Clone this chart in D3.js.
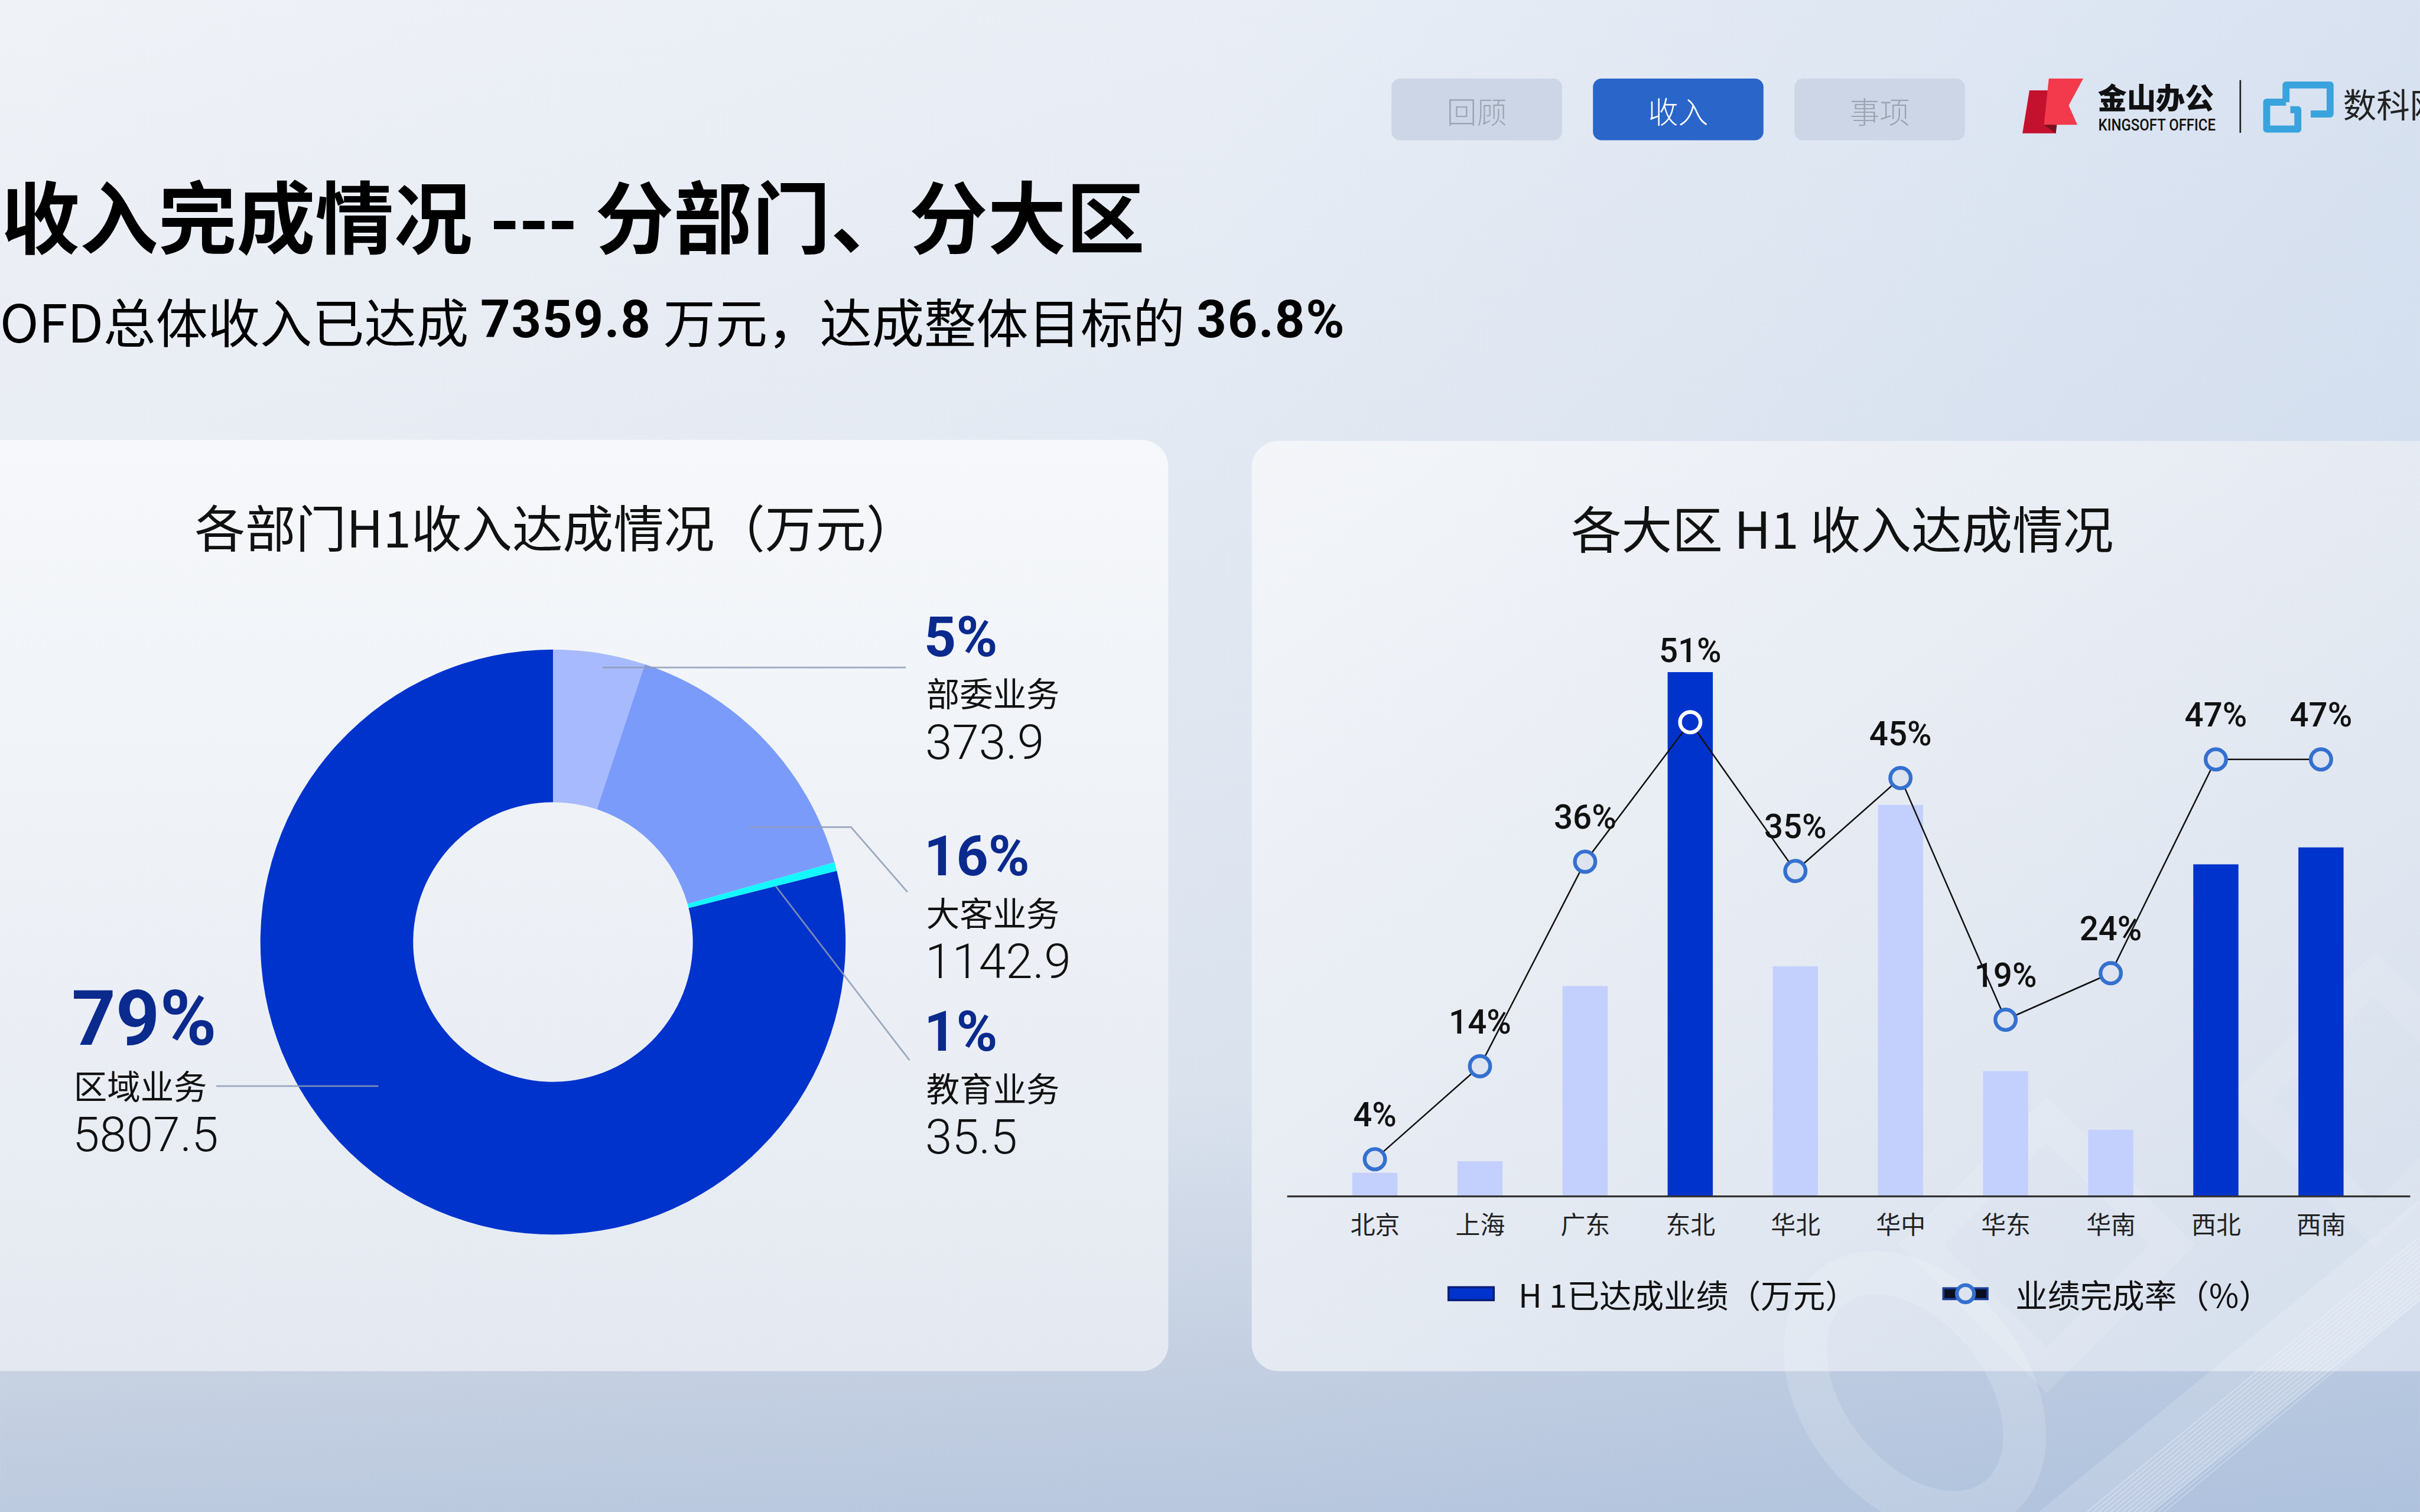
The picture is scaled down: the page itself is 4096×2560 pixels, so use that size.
<!DOCTYPE html>
<html><head><meta charset="utf-8">
<script src="https://cdn.jsdelivr.net/npm/d3@7"></script>
<style>html,body{margin:0;padding:0;overflow:hidden;background:#e9edf3}</style>
</head><body>
<svg id="c" width="4096" height="2560" viewBox="0 0 4499 2812"></svg>
<script>
// ---------------- data ----------------
const deptNames = ['部委业务','大客业务','教育业务','区域业务'];
const deptValues = [373.9, 1142.9, 35.5, 5807.5];
const deptPctLabels = ['5%','16%','1%','79%'];
const regions = ['北京','上海','广东','东北','华北','华中','华东','华南','西北','西南'];
const regionRevenue = [60, 89, 534, 1331, 584, 994, 318, 169, 843, 886];
const regionRate = [4, 14, 36, 51, 35, 45, 19, 24, 47, 47];
const tabLabels = ['回顾','收入','事项'];
const legendLabels = ['H 1已达成业绩（万元）','业绩完成率（%）'];
const titleText = '收入完成情况 --- 分部门、分大区';
const subtitleParts = [['OFD总体收入已达成 ',0],['7359.8',1],[' 万元，达成整体目标的 ',0],['36.8%',1]];
const pieTitle = '各部门H1收入达成情况（万元）';
const barTitle = '各大区 H1 收入达成情况';

// ---------------- layout / style ----------------
const CJK = "'Noto Sans CJK SC','Noto Sans',sans-serif";
const NUM = "Roboto,'Noto Sans CJK SC',sans-serif";
const deptColors = ['#a7bafd','#7b9bfb','#14f7ff','#0033cc'];
const svg = d3.select('#c');
const defs = svg.append('defs');
function lg(id,x1,y1,x2,y2,stops){
  const g = defs.append('linearGradient').attr('id',id).attr('x1',x1).attr('y1',y1).attr('x2',x2).attr('y2',y2);
  stops.forEach(s=>g.append('stop').attr('offset',s[0]).attr('stop-color',s[1]).attr('stop-opacity',s[2]==null?1:s[2]));
}
lg('bgV',0,0,0,1,[[0,'#eff2f7'],[0.72,'#e0e6ef'],[0.9,'#c8d2e2'],[1,'#bccadf']]);
lg('bgH',0,0,1,0,[[0,'#6f9ad6',0],[0.5,'#6f9ad6',0.05],[1,'#6f9ad6',0.18]]);
lg('cardL',0,0,0,1,[[0,'#f6f8fb'],[1,'#e4e9f1']]);
lg('cardR',0,0,1,1,[[0,'#f3f5f9'],[0.6,'#e2e8f1'],[1,'#d3ddec']]);

// background
svg.append('rect').attr('width',4499).attr('height',2812).attr('fill','url(#bgV)');
svg.append('rect').attr('width',4499).attr('height',2812).attr('fill','url(#bgH)');

// cards
svg.append('rect').attr('x',-60).attr('y',818).attr('width',2232).attr('height',1732).attr('rx',50).attr('fill','url(#cardL)');
svg.append('rect').attr('x',2327).attr('y',820).attr('width',2300).attr('height',1730).attr('rx',50).attr('fill','url(#cardR)');

// faint background decorations (watermark)
const deco = svg.append('g').attr('fill','none').attr('stroke','#ffffff');
deco.append('ellipse').attr('cx',3560).attr('cy',2590).attr('rx',170).attr('ry',250)
  .attr('transform','rotate(-38 3560 2590)').attr('stroke-width',80).attr('stroke-opacity',0.16);
deco.append('rect').attr('x',3640).attr('y',2150).attr('width',330).attr('height',330)
  .attr('transform','rotate(45 3805 2315)').attr('stroke-width',60).attr('stroke-opacity',0.13);
deco.append('rect').attr('x',4250).attr('y',1880).attr('width',330).attr('height',330)
  .attr('transform','rotate(45 4415 2045)').attr('stroke-width',60).attr('stroke-opacity',0.10);
svg.append('path').attr('d','M4499,2230 L4499,2420 L4000,2812 L3790,2812 Z').attr('fill','#ffffff').attr('fill-opacity',0.16);
d3.range(0,14).forEach(i=>{
  deco.append('line').attr('x1',4499).attr('y1',2300+i*9).attr('x2',3880+i*11).attr('y2',2812)
    .attr('stroke-width',2).attr('stroke-opacity',0.3);
});

// tabs
const tabs = svg.append('g');
tabLabels.forEach((t,i)=>{
  const x0 = 2587 + i*374.5;
  const active = i===1;
  tabs.append('rect').attr('x',x0).attr('y',146).attr('width',317).attr('height',115).attr('rx',16)
    .attr('fill',active?'#2a66c9':'#ccd6e6');
  tabs.append('text').attr('x',x0+158.5).attr('y',205).attr('text-anchor','middle').attr('dominant-baseline','central')
    .style('font-family',CJK).style('font-weight',300).style('font-size','56px').attr('fill',active?'#ffffff':'#9ca5b2').text(t);
});

// logos
const logo = svg.append('g');
logo.append('path').attr('d','M3773,168 L3812,168 L3822,248 L3760,248 Z').attr('fill','#c4112d');
logo.append('path').attr('d','M3809,146 L3873,146 L3846,196 L3862,232 L3800,232 Z').attr('fill','#f23a4c');
logo.append('path').attr('d','M3800,232 L3824,232 L3822,248 Z').attr('fill','#7a1020');
logo.append('text').attr('x',3900).attr('y',178).attr('dominant-baseline','central')
  .style('font-family',CJK).style('font-weight',900).style('font-size','54px').attr('fill','#111').text('金山办公');
logo.append('text').attr('x',3901).attr('y',232).attr('dominant-baseline','central').attr('textLength',218).attr('lengthAdjust','spacingAndGlyphs')
  .style('font-family',NUM).style('font-weight',500).style('font-size','31px').attr('fill','#111').text('KINGSOFT OFFICE');
logo.append('line').attr('x1',4165).attr('x2',4165).attr('y1',149).attr('y2',247).attr('stroke','#222').attr('stroke-width',3);
logo.append('path').attr('d','M4250,190 L4214,190 L4214,240 L4272,240 L4272,204 L4258,204')
  .attr('fill','none').attr('stroke','#39a3dd').attr('stroke-width',13).attr('stroke-linejoin','round');
logo.append('path').attr('d','M4250,190 L4250,158 L4332,158 L4332,212 L4296,212')
  .attr('fill','none').attr('stroke','#39a3dd').attr('stroke-width',13).attr('stroke-linejoin','round');
logo.append('text').attr('x',4356).attr('y',192).attr('dominant-baseline','central')
  .style('font-family',CJK).style('font-size','62px').attr('fill','#222').text('数科网');

// titles
svg.append('text').attr('x',2).attr('y',397).attr('dominant-baseline','central')
  .style('font-family',CJK).style('font-weight',700).style('font-size','146px').attr('fill','#000').text(titleText);
const sub = svg.append('text').attr('x',0).attr('y',594).attr('dominant-baseline','central')
  .style('font-family',CJK).style('font-size','97px').attr('fill','#000');
subtitleParts.forEach(p=>{
  sub.append('tspan').text(p[0]).style('font-weight',p[1]?700:400).style('font-family',p[1]?NUM:CJK)
    .style('letter-spacing',p[1]?'2px':'0px');
});

// ---------------- pie (donut) ----------------
const cx = 1028, cy = 1752, R = 544, r0 = 260;
svg.append('text').attr('x',1033).attr('y',978).attr('text-anchor','middle').attr('dominant-baseline','central')
  .style('font-family',CJK).style('font-size','94px').attr('fill','#111').text(pieTitle);
const pieData = d3.pie().sort(null).value(d=>d)(deptValues);
const arc = d3.arc().innerRadius(r0).outerRadius(R);
const pg = svg.append('g').attr('transform',`translate(${cx},${cy})`);
pg.selectAll('path').data(pieData).join('path').attr('d',arc).attr('fill',(d,i)=>deptColors[i]);

// leader lines & labels
function onRing(d,t,rr){ const a = d.startAngle + t*(d.endAngle-d.startAngle); return [cx+rr*Math.sin(a), cy-rr*Math.cos(a)]; }
const leaderSpec = [
  {t:0.56, rr:519, pts:(p)=>[p,[1684,p[1]]]},
  {t:0.74, rr:423, pts:(p)=>[p,[1582,p[1]],[1687,1659]]},
  {t:1.0,  rr:427, pts:(p)=>[p,[1691,1972]]},
  {t:0.544,rr:421, pts:(p)=>[p,[402,p[1]]]}
];
const lineGen = d3.line();
pieData.forEach((d,i)=>{
  const s = leaderSpec[i];
  svg.append('path').attr('d',lineGen(s.pts(onRing(d,s.t,s.rr)))).attr('fill','none')
    .attr('stroke','#8e9bb4').attr('stroke-opacity',0.85).attr('stroke-width',3);
});
const labelSpec = [
  {x:1722, py:1185, ny:1287, vy:1381, ps:104},
  {x:1722, py:1592, ny:1695, vy:1788, ps:104},
  {x:1722, py:1918, ny:2022, vy:2114, ps:104},
  {x:137,  py:1894, ny:2017, vy:2110, ps:143}
];
deptNames.forEach((n,i)=>{
  const s = labelSpec[i];
  const g = svg.append('g');
  g.append('text').attr('x',s.x-4).attr('y',s.py).attr('dominant-baseline','central')
    .style('font-family',NUM).style('font-weight',700).style('font-size',s.ps+'px').attr('fill','#0b2a8e').text(deptPctLabels[i]);
  g.append('text').attr('x',s.x).attr('y',s.ny).attr('dominant-baseline','central')
    .style('font-family',CJK).style('font-size','62px').attr('fill','#111').text(n);
  g.append('text').attr('x',s.x-2).attr('y',s.vy).attr('dominant-baseline','central')
    .style('font-family',NUM).style('font-weight',300).style('font-size','90px').attr('fill','#111').text(d3.format('.1f')(deptValues[i]));
});

// ---------------- bar + line chart ----------------
const axisY = 2225;
svg.append('text').attr('x',3425).attr('y',980).attr('text-anchor','middle').attr('dominant-baseline','central')
  .style('font-family',CJK).style('font-size','94px').attr('fill','#111').text(barTitle);
const x = d3.scalePoint().domain(regions).range([2556, 4315]);
const yBar = d3.scaleLinear().domain([0,1400]).range([axisY, axisY - 1400*975/1331]);
const yRate = d3.scaleLinear().domain([0,100]).range([axisY, 496]);
const barW = 84;
const darkThreshold = 46;
const rows = regions.map((r,i)=>({r, v:regionRevenue[i], p:regionRate[i]}));

svg.append('g').selectAll('rect').data(rows).join('rect')
  .attr('x',d=>x(d.r)-barW/2).attr('width',barW)
  .attr('y',d=>yBar(d.v)).attr('height',d=>axisY-yBar(d.v))
  .attr('fill',d=>d.p>=darkThreshold?'#0033cc':'#c3d0fd');

svg.append('line').attr('x1',2393).attr('x2',4481).attr('y1',axisY).attr('y2',axisY).attr('stroke','#333').attr('stroke-width',3.5);
const ax = svg.append('g').attr('transform',`translate(0,${axisY})`).call(d3.axisBottom(x).tickSize(0));
ax.select('.domain').remove();
ax.selectAll('text').attr('y',49).attr('dy',null).attr('dominant-baseline','central')
  .style('font-family',CJK).style('font-size','46px').attr('fill','#222');

svg.append('path').datum(rows).attr('d',d3.line().x(d=>x(d.r)).y(d=>yRate(d.p)))
  .attr('fill','none').attr('stroke','#111').attr('stroke-width',2.8);

svg.append('g').selectAll('circle').data(rows).join('circle')
  .attr('cx',d=>x(d.r)).attr('cy',d=>yRate(d.p)).attr('r',19).attr('stroke-width',7)
  .attr('stroke',d=>(d.p>=darkThreshold && yRate(d.p)>yBar(d.v))?'#ffffff':'#3470cf')
  .attr('fill',d=>(d.p>=darkThreshold && yRate(d.p)>yBar(d.v))?'#0033cc':'#dde4f0');

svg.append('g').selectAll('text').data(rows).join('text')
  .attr('x',d=>x(d.r)).attr('y',d=>Math.min(yRate(d.p)-82, yBar(d.v)-40))
  .attr('text-anchor','middle').attr('dominant-baseline','central')
  .style('font-family',NUM).style('font-weight',500).style('font-size','62px').attr('fill','#111')
  .text(d=>d.p+'%');

// legend
const lgY = 2406;
svg.append('rect').attr('x',2693).attr('y',lgY-12).attr('width',84).attr('height',24)
  .attr('fill','#0033cc').attr('stroke','#0b1f78').attr('stroke-width',4);
svg.append('text').attr('x',2823).attr('y',lgY).attr('dominant-baseline','central')
  .style('font-family',CJK).style('font-size','60px').attr('fill','#111').text(legendLabels[0]);
svg.append('rect').attr('x',3613).attr('y',lgY-10).attr('width',82).attr('height',20)
  .attr('fill','#0a0f1e').attr('stroke','#1a3c98').attr('stroke-width',4);
svg.append('circle').attr('cx',3654).attr('cy',lgY).attr('r',16).attr('fill','#dde4f0').attr('stroke','#3470cf').attr('stroke-width',7);
svg.append('text').attr('x',3747).attr('y',lgY).attr('dominant-baseline','central')
  .style('font-family',CJK).style('font-size','60px').attr('fill','#111').text(legendLabels[1]);
</script>
</body></html>
